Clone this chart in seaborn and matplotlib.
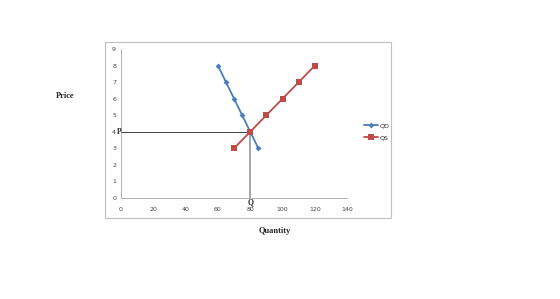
import matplotlib
matplotlib.use("Agg")
import matplotlib.pyplot as plt
import seaborn as sns
import pandas as pd
from matplotlib.patches import Rectangle

sns.set_style("white")
plt.rcParams['font.family'] = ['DejaVu Sans']

# Demand and supply schedules
qd_quantity = [60, 65, 70, 75, 80, 85]
qd_price = [8, 7, 6, 5, 4, 3]
qs_quantity = [70, 80, 90, 100, 110, 120]
qs_price = [3, 4, 5, 6, 7, 8]
eq_q, eq_p = 80, 4
x_ticks = [0, 20, 40, 60, 80, 100, 120, 140]
y_ticks = list(range(0, 10))

blue = '#4A7EBB'
red = '#BE4B48'

fig = plt.figure(figsize=(5.6, 2.99), dpi=100)
# chart border box
fig.patches.append(Rectangle((0.1875, 0.271), 0.5105, 0.589, transform=fig.transFigure,
                             fill=False, edgecolor='#BFBFBF', linewidth=0.8))
ax = fig.add_axes([0.216, 0.338, 0.404, 0.498])

qd = pd.DataFrame({'Quantity': qd_quantity, 'Price': qd_price})
qs = pd.DataFrame({'Quantity': qs_quantity, 'Price': qs_price})
sns.lineplot(data=qd, x='Quantity', y='Price', ax=ax, color=blue, marker='D',
             markersize=3, markeredgewidth=0, linewidth=1.3, label='QD', sort=False)
sns.lineplot(data=qs, x='Quantity', y='Price', ax=ax, color=red, marker='s',
             markersize=4, markeredgewidth=0, linewidth=1.3, label='QS', sort=False)

# equilibrium guides
ax.plot([0, eq_q], [eq_p, eq_p], color='#404040', linewidth=0.7, zorder=1)
ax.plot([eq_q, eq_q], [eq_p, 0], color='#A6A6A6', linewidth=1.4, zorder=1)
ax.text(0.5, eq_p, 'P', fontsize=5.5, family='Liberation Serif', fontweight='bold',
        ha='right', va='center')
ax.text(eq_q, -0.05, 'Q', fontsize=5.5, family='Liberation Serif', fontweight='bold',
        ha='center', va='top')

ax.set_xlim(0, 140)
ax.set_ylim(0, 9)
ax.set_xticks(x_ticks)
ax.set_yticks(y_ticks)
ax.tick_params(labelsize=4.5, colors='#404040', length=2, width=0.5, pad=2)
ax.tick_params(axis='x', pad=4.5)
ax.tick_params(axis='y', pad=1.5)
for s in ['top', 'right']:
    ax.spines[s].set_visible(False)
for s in ['left', 'bottom']:
    ax.spines[s].set_color('#A6A6A6')
    ax.spines[s].set_linewidth(0.6)
ax.set_xlabel('')
ax.set_ylabel('')

leg = ax.legend(loc='center left', bbox_to_anchor=(1.05, 0.445), frameon=False,
                fontsize=4.5, handlelength=2.2, labelspacing=1.1, handletextpad=0.2)

fig.text(0.117, 0.68, 'Price', fontsize=6, family='Liberation Serif', fontweight='bold',
         ha='center', va='center')
fig.text(0.49, 0.227, 'Quantity', fontsize=6, family='Liberation Serif', fontweight='bold',
         ha='center', va='center')

fig.savefig('out.png', dpi=100)
